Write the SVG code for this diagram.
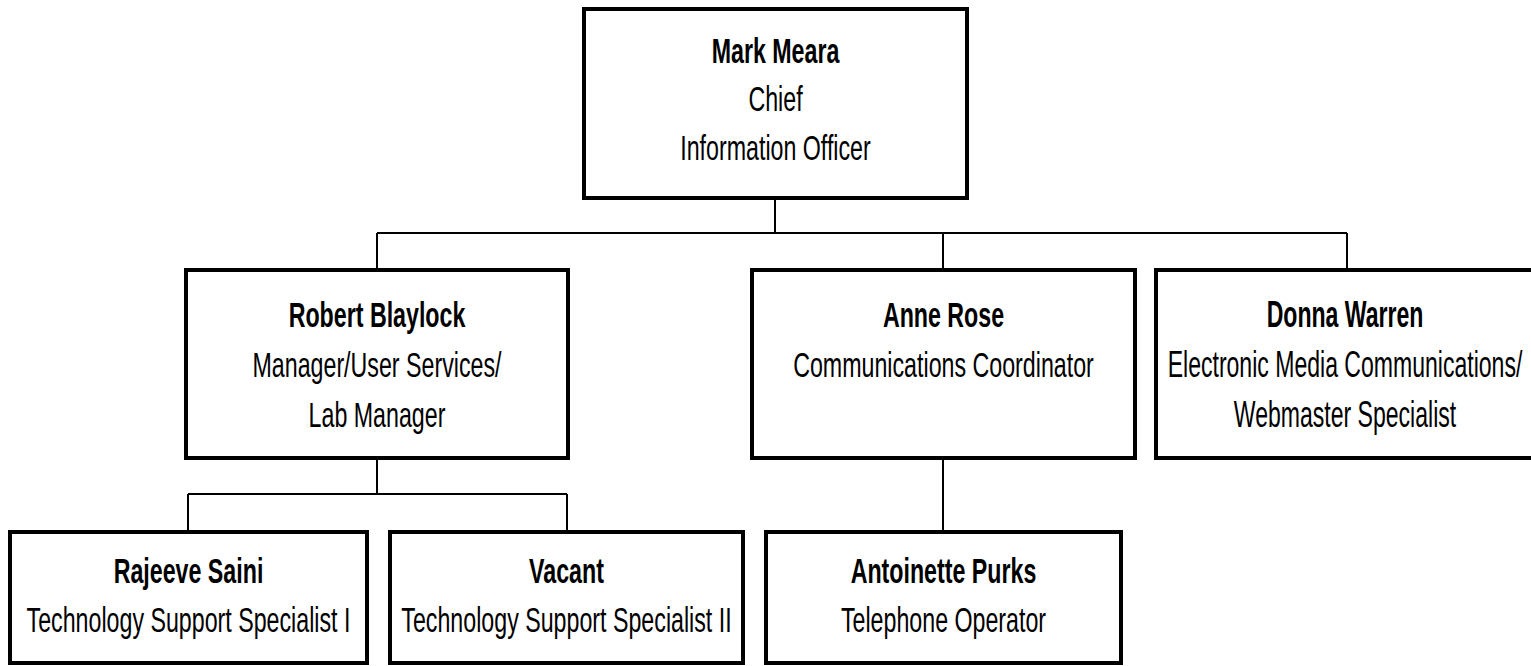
<svg xmlns="http://www.w3.org/2000/svg" width="1531" height="666" viewBox="0 0 1531 666">
<style>
.box{fill:#fff;stroke:#000;stroke-width:4}
.edge{stroke:#000;stroke-width:2;fill:none}
text{font-family:"Liberation Sans",Arial,sans-serif;font-size:36px;fill:#000;text-anchor:middle}
.b{font-weight:bold}
</style>
<rect width="1531" height="666" fill="#fff"/>
<g id="connectors">
<path class="edge" d="M775 199V233M377 233H1347M377 233V269M943 233V269M1347 233V268"/>
<path class="edge" d="M377 459V494M188 494H567M188 494V531M567 494V531"/>
<path class="edge" d="M943 459V531"/>
</g>
<g id="mark-meara">
<rect class="box" x="584" y="9" width="383" height="189"/>
<text transform="translate(775.5,63) scale(0.645,1)"><tspan class="b" x="0" y="0">Mark Meara</tspan><tspan x="0" y="48">Chief</tspan><tspan x="0" y="97">Information Officer</tspan></text>
</g>
<g id="robert-blaylock">
<rect class="box" x="186" y="270" width="382" height="188"/>
<text transform="translate(377,327) scale(0.645,1)"><tspan class="b" x="0" y="0">Robert Blaylock</tspan><tspan x="0" y="50">Manager/User Services/</tspan><tspan x="0" y="100">Lab Manager</tspan></text>
</g>
<g id="anne-rose">
<rect class="box" x="752" y="270" width="383" height="188"/>
<text transform="translate(943.5,327) scale(0.645,1)"><tspan class="b" x="0" y="0">Anne Rose</tspan><tspan x="0" y="50">Communications Coordinator</tspan></text>
</g>
<g id="donna-warren">
<rect class="box" x="1156" y="270" width="390" height="188"/>
<text transform="translate(1345,327) scale(0.64,1)"><tspan class="b" x="0" y="0">Donna Warren</tspan><tspan x="0" y="50">Electronic Media Communications/</tspan><tspan x="0" y="100">Webmaster Specialist</tspan></text>
</g>
<g id="rajeeve-saini">
<rect class="box" x="10" y="532" width="357" height="131"/>
<text transform="translate(188.5,583) scale(0.645,1)"><tspan class="b" x="0" y="0">Rajeeve Saini</tspan><tspan x="0" y="49">Technology Support Specialist I</tspan></text>
</g>
<g id="vacant">
<rect class="box" x="390" y="532" width="353" height="131"/>
<text transform="translate(566.5,583) scale(0.645,1)"><tspan class="b" x="0" y="0">Vacant</tspan><tspan x="0" y="49">Technology Support Specialist II</tspan></text>
</g>
<g id="antoinette-purks">
<rect class="box" x="766" y="532" width="355" height="131"/>
<text transform="translate(943.5,583) scale(0.645,1)"><tspan class="b" x="0" y="0">Antoinette Purks</tspan><tspan x="0" y="49">Telephone Operator</tspan></text>
</g>
</svg>
